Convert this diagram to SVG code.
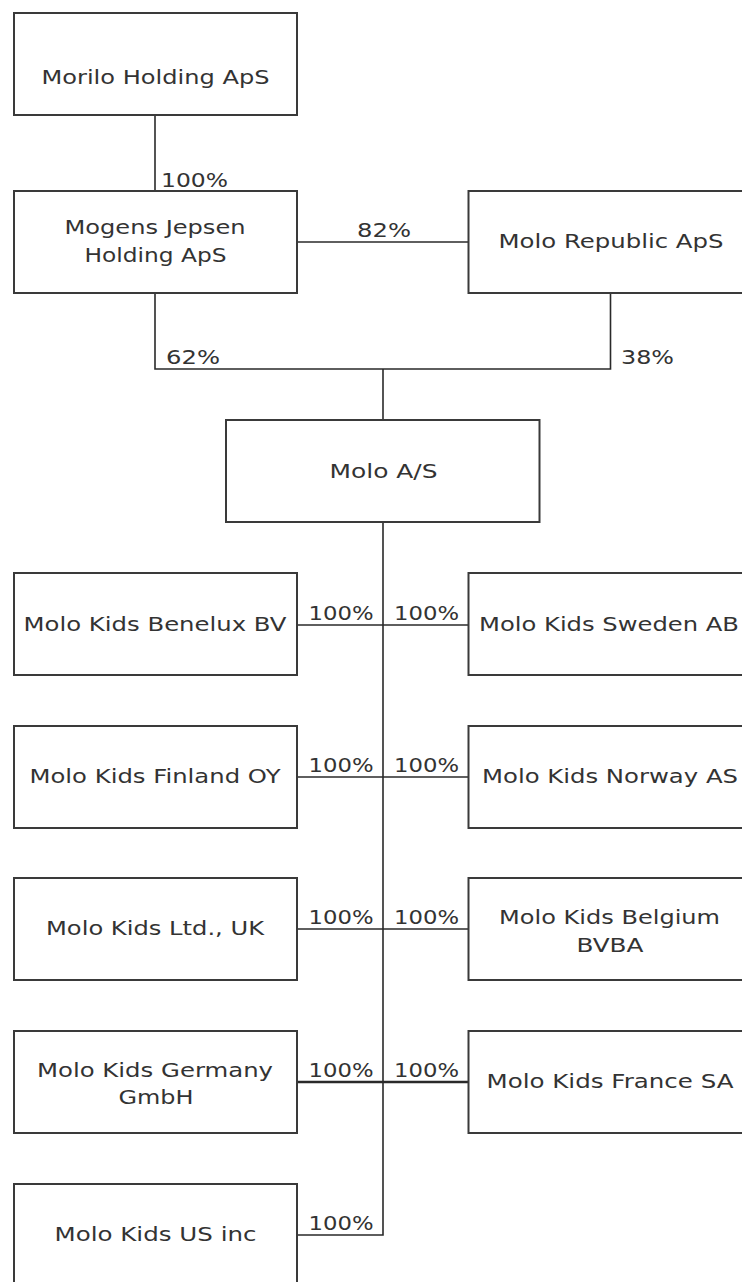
<svg xmlns="http://www.w3.org/2000/svg" width="742" height="1282" viewBox="0 0 742 1282">
<style>
.box{fill:#fff;stroke:#3a3a3a;stroke-width:2}
.t{font-family:"DejaVu Sans",Verdana,sans-serif;font-size:19px;fill:#333}
.c{fill:none;stroke:#2a2a2a;stroke-width:1.6}
</style>
<rect x="0" y="0" width="742" height="1282" fill="#fff"/>
<g id="connectors">
<path class="c" d="M155,115V191"/>
<path class="c" d="M297,242H468.5"/>
<path class="c" d="M155,293V369H610.5V293"/>
<path class="c" d="M383,369V420"/>
<path class="c" d="M383,522V1235H297"/>
<path class="c" d="M297,625H468.5"/>
<path class="c" d="M297,777H468.5"/>
<path class="c" d="M297,929H468.5"/>
<path class="c" d="M297,1082H468.5" style="stroke-width:2.6"/>
<text class="t" x="161" y="187" textLength="67" lengthAdjust="spacingAndGlyphs">100%</text>
<text class="t" x="357" y="237" textLength="54" lengthAdjust="spacingAndGlyphs">82%</text>
<text class="t" x="166" y="364" textLength="54" lengthAdjust="spacingAndGlyphs">62%</text>
<text class="t" x="621" y="364" textLength="53" lengthAdjust="spacingAndGlyphs">38%</text>
<text class="t" x="308.5" y="620" textLength="65" lengthAdjust="spacingAndGlyphs">100%</text>
<text class="t" x="394" y="620" textLength="65" lengthAdjust="spacingAndGlyphs">100%</text>
<text class="t" x="308.5" y="772" textLength="65" lengthAdjust="spacingAndGlyphs">100%</text>
<text class="t" x="394" y="772" textLength="65" lengthAdjust="spacingAndGlyphs">100%</text>
<text class="t" x="308.5" y="924" textLength="65" lengthAdjust="spacingAndGlyphs">100%</text>
<text class="t" x="394" y="924" textLength="65" lengthAdjust="spacingAndGlyphs">100%</text>
<text class="t" x="308.5" y="1077" textLength="65" lengthAdjust="spacingAndGlyphs">100%</text>
<text class="t" x="394" y="1077" textLength="65" lengthAdjust="spacingAndGlyphs">100%</text>
<text class="t" x="308.5" y="1230" textLength="65" lengthAdjust="spacingAndGlyphs">100%</text>
</g>
<g id="morilo">
<rect class="box" x="14" y="13" width="283" height="102"/>
<text class="t" x="41.5" y="84" textLength="228" lengthAdjust="spacingAndGlyphs">Morilo Holding ApS</text>
</g>
<g id="mogens">
<rect class="box" x="14" y="191" width="283" height="102"/>
<text class="t" x="64.5" y="234" textLength="181" lengthAdjust="spacingAndGlyphs">Mogens Jepsen</text>
<text class="t" x="84.5" y="262" textLength="142" lengthAdjust="spacingAndGlyphs">Holding ApS</text>
</g>
<g id="republic">
<rect class="box" x="468.5" y="191" width="285" height="102"/>
<text class="t" x="498.5" y="248" textLength="225" lengthAdjust="spacingAndGlyphs">Molo Republic ApS</text>
</g>
<g id="molo">
<rect class="box" x="226" y="420" width="313.5" height="102"/>
<text class="t" x="329.5" y="478" textLength="108" lengthAdjust="spacingAndGlyphs">Molo A/S</text>
</g>
<g id="benelux">
<rect class="box" x="14" y="573" width="283" height="102"/>
<text class="t" x="23.5" y="631" textLength="263" lengthAdjust="spacingAndGlyphs">Molo Kids Benelux BV</text>
</g>
<g id="sweden">
<rect class="box" x="468.5" y="573" width="285" height="102"/>
<text class="t" x="479" y="631" textLength="260" lengthAdjust="spacingAndGlyphs">Molo Kids Sweden AB</text>
</g>
<g id="finland">
<rect class="box" x="14" y="726" width="283" height="102"/>
<text class="t" x="29.5" y="783" textLength="251" lengthAdjust="spacingAndGlyphs">Molo Kids Finland OY</text>
</g>
<g id="norway">
<rect class="box" x="468.5" y="726" width="285" height="102"/>
<text class="t" x="482" y="783" textLength="256" lengthAdjust="spacingAndGlyphs">Molo Kids Norway AS</text>
</g>
<g id="uk">
<rect class="box" x="14" y="878" width="283" height="102"/>
<text class="t" x="46" y="935" textLength="218" lengthAdjust="spacingAndGlyphs">Molo Kids Ltd., UK</text>
</g>
<g id="belgium">
<rect class="box" x="468.5" y="878" width="285" height="102"/>
<text class="t" x="499" y="923.5" textLength="221" lengthAdjust="spacingAndGlyphs">Molo Kids Belgium</text>
<text class="t" x="576.5" y="951.5" textLength="67" lengthAdjust="spacingAndGlyphs">BVBA</text>
</g>
<g id="germany">
<rect class="box" x="14" y="1031" width="283" height="102"/>
<text class="t" x="37" y="1076.5" textLength="236" lengthAdjust="spacingAndGlyphs">Molo Kids Germany</text>
<text class="t" x="118.5" y="1103.5" textLength="75" lengthAdjust="spacingAndGlyphs">GmbH</text>
</g>
<g id="france">
<rect class="box" x="468.5" y="1031" width="285" height="102"/>
<text class="t" x="486.5" y="1088" textLength="247" lengthAdjust="spacingAndGlyphs">Molo Kids France SA</text>
</g>
<g id="us">
<rect class="box" x="14" y="1184" width="283" height="102"/>
<text class="t" x="54.5" y="1240.5" textLength="202" lengthAdjust="spacingAndGlyphs">Molo Kids US inc</text>
</g>
</svg>
